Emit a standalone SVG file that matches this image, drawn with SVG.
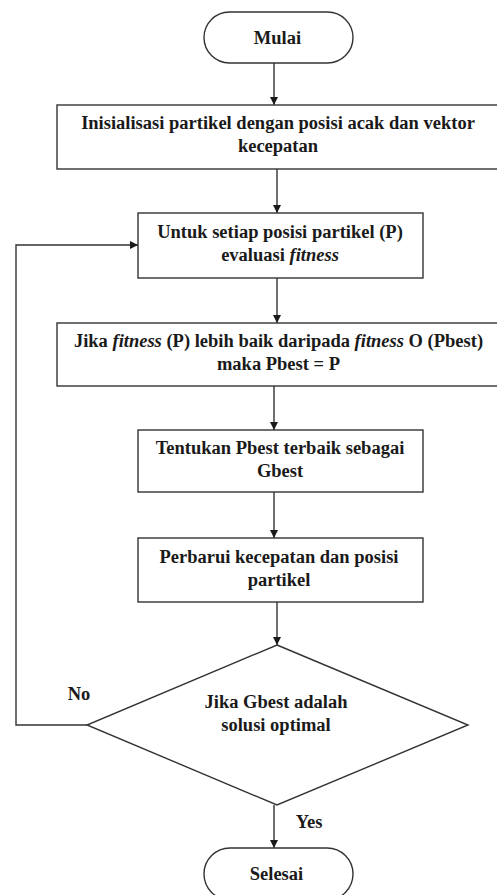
<svg xmlns="http://www.w3.org/2000/svg" width="497" height="895" viewBox="0 0 497 895">
<style>
.s{fill:#fff;stroke:#333;stroke-width:1.4}
.t{font-family:'Liberation Serif','Times New Roman',Times,serif;font-weight:700;font-size:18.5px;fill:#1a1a1a;text-anchor:middle}
.c{fill:none;stroke:#333;stroke-width:1.4}
.i{font-style:italic}
</style>
<defs>
<marker id="a" markerWidth="8" markerHeight="8" refX="8" refY="4" orient="auto" markerUnits="userSpaceOnUse">
<path d="M0,0 L8,4 L0,8 z" fill="#1a1a1a"/>
</marker>
</defs>
<rect width="497" height="895" fill="#fff"/>
<g id="connectors">
<line class="c" x1="274" y1="63" x2="274" y2="105" marker-end="url(#a)"/>
<line class="c" x1="277" y1="169" x2="277" y2="213" marker-end="url(#a)"/>
<line class="c" x1="277" y1="278" x2="277" y2="323" marker-end="url(#a)"/>
<line class="c" x1="274" y1="386" x2="274" y2="430" marker-end="url(#a)"/>
<line class="c" x1="274" y1="492" x2="274" y2="538" marker-end="url(#a)"/>
<line class="c" x1="277" y1="602" x2="277" y2="645" marker-end="url(#a)"/>
<line class="c" x1="274" y1="805" x2="274" y2="848" marker-end="url(#a)"/>
<polyline class="c" points="87,725 16,725 16,245 138,245" marker-end="url(#a)"/>
<text class="t" x="79" y="700" font-family="Liberation Serif, serif">No</text>
<text class="t" x="309" y="828" font-family="Liberation Serif, serif">Yes</text>
</g>
<g id="mulai">
<rect class="s" x="204" y="12" width="149" height="51" rx="25.5"/>
<text class="t" x="277.5" y="44">Mulai</text>
</g>
<g id="inisialisasi">
<rect class="s" x="57" y="105" width="445" height="64"/>
<text class="t" x="278" y="129">Inisialisasi partikel dengan posisi acak dan vektor</text>
<text class="t" x="278" y="152">kecepatan</text>
</g>
<g id="evaluasi">
<rect class="s" x="138" y="213" width="285" height="65"/>
<text class="t" x="280" y="238">Untuk setiap posisi partikel (P)</text>
<text class="t" x="280" y="261">evaluasi <tspan class="i">fitness</tspan></text>
</g>
<g id="pbest">
<rect class="s" x="57" y="323" width="445" height="63"/>
<text class="t" x="278.5" y="347">Jika <tspan class="i">fitness</tspan> (P) lebih baik daripada <tspan class="i">fitness</tspan> O (Pbest)</text>
<text class="t" x="278.5" y="370">maka Pbest = P</text>
</g>
<g id="gbest">
<rect class="s" x="138" y="430" width="285" height="62"/>
<text class="t" x="280" y="454">Tentukan Pbest terbaik sebagai</text>
<text class="t" x="280" y="477">Gbest</text>
</g>
<g id="perbarui">
<rect class="s" x="138" y="538" width="285" height="64"/>
<text class="t" x="279" y="563">Perbarui kecepatan dan posisi</text>
<text class="t" x="279" y="586">partikel</text>
</g>
<g id="keputusan">
<polygon class="s" points="277,645 468,725 277,805 87,725"/>
<text class="t" x="276" y="708">Jika Gbest adalah</text>
<text class="t" x="276" y="731">solusi optimal</text>
</g>
<g id="selesai">
<rect class="s" x="204" y="848" width="149" height="52" rx="26"/>
<text class="t" x="276.5" y="880">Selesai</text>
</g>
</svg>
